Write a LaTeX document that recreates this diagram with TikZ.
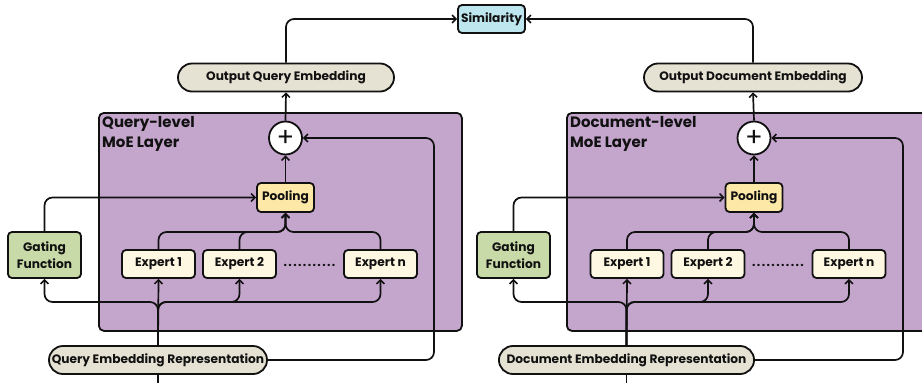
\documentclass[tikz,border=0pt]{standalone}
\usepackage{fontspec}
\setmainfont{Poppins}
\usetikzlibrary{arrows.meta,shapes.misc,positioning}
\definecolor{moe}{HTML}{C4A5CC}
\definecolor{pill}{HTML}{E6E2D3}
\definecolor{simc}{HTML}{BEE6EE}
\definecolor{poolc}{HTML}{FDE8A8}
\definecolor{expc}{HTML}{FEF8E2}
\definecolor{gatec}{HTML}{C9DAA9}
\definecolor{ink}{HTML}{111111}
\newcommand{\dotrow}{.\kern1.4pt.\kern1.4pt.\kern1.4pt.\kern1.4pt.\kern1.4pt.\kern1.4pt.\kern1.4pt.\kern1.4pt.\kern1.4pt.\kern1.4pt.}
\tikzset{
  every node/.style={font=\bfseries\fontsize{12.2}{14}\selectfont, text=ink},
  pillbox/.style={rounded rectangle, draw=ink, line width=1.8pt, fill=pill, minimum height=28pt, inner xsep=6pt},
  boxstyle/.style={rectangle, rounded corners=4pt, draw=ink, line width=1.8pt},
  expbox/.style={boxstyle, fill=expc, minimum width=73pt, minimum height=28pt},
  layerbox/.style={rectangle, rounded corners=5pt, draw=ink, line width=1.8pt, fill=moe},
  conn/.style={draw=ink, line width=1.7pt, rounded corners=8pt},
  arr/.style={conn, -{Straight Barb[length=4pt,width=8pt,line width=1.5pt]}},
  title/.style={font=\bfseries\fontsize{15}{20}\selectfont, align=left, anchor=north west, inner sep=0pt}
}
\begin{document}
\begin{tikzpicture}[x=1pt,y=-1pt]
\useasboundingbox (0,0) rectangle (922,383);
% layer boxes
\node[layerbox, minimum width=363pt, minimum height=218pt, anchor=north west] (qlayer) at (98,112) {};
\node[layerbox, minimum width=370pt, minimum height=218pt, anchor=north west] (dlayer) at (566,112) {};
\node[title] (qtitle) at (102,116) {Query-level\\MoE Layer};
\node[title] (dtitle) at (570,116) {Document-level\\MoE Layer};
% top
\node[boxstyle, fill=simc, minimum width=67pt, minimum height=28pt, inner xsep=3pt] (sim) at (491.5,19) {Similarity};
\node[pillbox, minimum width=228pt] (qout) at (286,77.5) {Output Query Embedding};
\node[pillbox, minimum width=230pt] (dout) at (753,77.5) {Output Document Embedding};
% query side
\node[circle, draw=ink, line width=1.8pt, fill=white, minimum size=33pt, inner sep=0pt, font=\fontsize{26}{26}\selectfont] (qplus) at (285.5,138) {+};
\node[boxstyle, fill=poolc, minimum width=57pt, minimum height=29pt] (qpool) at (285.5,197.5) {Pooling};
\node[expbox] (qe1) at (158.5,264) {Expert 1};
\node[expbox] (qe2) at (239.5,264) {Expert 2};
\node[expbox] (qen) at (380.5,264) {Expert n};
\node[inner sep=0pt] (qdots) at (309.5,265) {\dotrow};
\node[boxstyle, fill=gatec, minimum width=73pt, minimum height=46pt, align=center, font=\bfseries\fontsize{12.2}{17}\selectfont] (qgate) at (44.5,255) {Gating\\Function};
\node[pillbox, minimum width=230pt] (qrep) at (158,360) {Query Embedding Representation};
\coordinate (qin) at (158,390);
\coordinate (qsplit) at (158,302);
\coordinate (qmerge) at (285.5,232);
\coordinate (qres) at (434,138);
% document side
\node[circle, draw=ink, line width=1.8pt, fill=white, minimum size=33pt, inner sep=0pt, font=\fontsize{26}{26}\selectfont] (dplus) at (754,138) {+};
\node[boxstyle, fill=poolc, minimum width=57pt, minimum height=29pt] (dpool) at (754,197.5) {Pooling};
\node[expbox] (de1) at (627,264) {Expert 1};
\node[expbox] (de2) at (708,264) {Expert 2};
\node[expbox] (den) at (849,264) {Expert n};
\node[inner sep=0pt] (ddots) at (778,265) {\dotrow};
\node[boxstyle, fill=gatec, minimum width=73pt, minimum height=46pt, align=center, font=\bfseries\fontsize{12.2}{17}\selectfont] (dgate) at (513.5,255) {Gating\\Function};
\node[pillbox, minimum width=251pt] (drep) at (626.5,360) {Document Embedding Representation};
\coordinate (din) at (626.5,390);
\coordinate (dsplit) at (626.5,302);
\coordinate (dmerge) at (754,232);
\coordinate (dres) at (903,138);
% connectors query
\draw[conn] (qin) -- (qrep.south);
\draw[arr] (qrep.north) -- (qe1.south);
\draw[arr] (qrep.north) -- (qsplit) -| (qgate.south);
\draw[arr] (qrep.north) -- (qsplit) -| (qe2.south);
\draw[arr] (qrep.north) -- (qsplit) -| (qen.south);
\draw[arr] (qe1.north) |- (qmerge) -- (qpool.south);
\draw[arr] (qe2.north) |- (qmerge) -- (qpool.south);
\draw[arr] (qen.north) |- (qmerge) -- (qpool.south);
\draw[arr] (qgate.north) |- (qpool.west);
\draw[arr] (qpool.north) -- (qplus.south);
\draw[arr] (qrep.east) -| (qres) -- (qplus.east);
\draw[arr] (qplus.north) -- (qout.south);
\draw[arr] (qout.north) |- (sim.west);
% connectors document
\draw[conn] (din) -- (drep.south);
\draw[arr] (drep.north) -- (de1.south);
\draw[arr] (drep.north) -- (dsplit) -| (dgate.south);
\draw[arr] (drep.north) -- (dsplit) -| (de2.south);
\draw[arr] (drep.north) -- (dsplit) -| (den.south);
\draw[arr] (de1.north) |- (dmerge) -- (dpool.south);
\draw[arr] (de2.north) |- (dmerge) -- (dpool.south);
\draw[arr] (den.north) |- (dmerge) -- (dpool.south);
\draw[arr] (dgate.north) |- (dpool.west);
\draw[arr] (dpool.north) -- (dplus.south);
\draw[arr] (drep.east) -| (dres) -- (dplus.east);
\draw[arr] (dplus.north) -- (dout.south);
\draw[arr] (dout.north) |- (sim.east);
\end{tikzpicture}
\end{document}
